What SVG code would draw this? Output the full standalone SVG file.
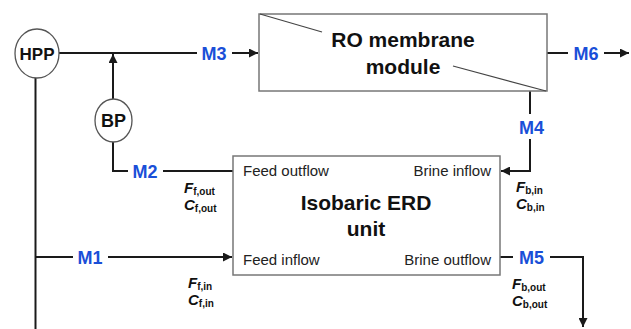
<svg xmlns="http://www.w3.org/2000/svg" width="631" height="329" viewBox="0 0 631 329">
  <style>
    .pipe { fill: none; stroke: #1a1a1a; stroke-width: 2; }
    .box { fill: #fff; stroke: #777; stroke-width: 1.5; }
    .pump { fill: #fff; stroke: #555; stroke-width: 1.3; }
    .thin { fill: none; stroke: #444; stroke-width: 1.2; }
    .lbl { font-family: "Liberation Sans", Arial, sans-serif; font-weight: bold; font-size: 18px; fill: #1a4fd8; text-anchor: middle; }
    .title { font-family: "Liberation Sans", Arial, sans-serif; font-weight: bold; font-size: 21px; fill: #111; text-anchor: middle; }
    .pt { font-family: "Liberation Sans", Arial, sans-serif; font-weight: bold; fill: #111; text-anchor: middle; }
    .port { font-family: "Liberation Sans", Arial, sans-serif; font-size: 15px; fill: #222; }
    .var { font-family: "Liberation Sans", Arial, sans-serif; font-weight: bold; font-style: italic; font-size: 15px; fill: #111; }
    .sub { font-style: normal; font-size: 10px; }
  </style>
  <defs>
    <marker id="arr" viewBox="0 0 10 10" refX="10" refY="5" markerWidth="9" markerHeight="9" markerUnits="userSpaceOnUse" orient="auto">
      <path d="M0,0 L10,5 L0,10 z" fill="#1a1a1a"/>
    </marker>
  </defs>

  <!-- connectors -->
  <g id="connectors">
    <path class="pipe" d="M59,53 H197"/>
    <path class="pipe" d="M232,53 H258" marker-end="url(#arr)"/>
    <path class="pipe" d="M113,99 V54" marker-end="url(#arr)"/>
    <path class="pipe" d="M113,142 V171 H128"/>
    <path class="pipe" d="M163,171 H233"/>
    <path class="pipe" d="M35.5,78 V329"/>
    <path class="pipe" d="M35.5,257 H73"/>
    <path class="pipe" d="M108,257 H232" marker-end="url(#arr)"/>
    <path class="pipe" d="M530,91 V114"/>
    <path class="pipe" d="M530,139 V171 H501" marker-end="url(#arr)"/>
    <path class="pipe" d="M500,257 H513"/>
    <path class="pipe" d="M550,257 H583 V327" marker-end="url(#arr)"/>
    <path class="pipe" d="M547,53 H568"/>
    <path class="pipe" d="M604,53 H629" marker-end="url(#arr)"/>
    <text class="lbl" x="214" y="59.5">M3</text>
    <text class="lbl" x="145" y="177.5">M2</text>
    <text class="lbl" x="90" y="263.5">M1</text>
    <text class="lbl" x="531.5" y="134">M4</text>
    <text class="lbl" x="531.5" y="263.5">M5</text>
    <text class="lbl" x="586" y="59.5">M6</text>
  </g>

  <!-- high pressure pump -->
  <g id="hpp">
    <ellipse class="pump" cx="37" cy="53.5" rx="22" ry="24.5"/>
    <text class="pt" x="37" y="60" font-size="17">HPP</text>
  </g>

  <!-- booster pump -->
  <g id="bp">
    <ellipse class="pump" cx="113.5" cy="120.5" rx="18.5" ry="21.5"/>
    <text class="pt" x="113.5" y="126.5" font-size="18">BP</text>
  </g>

  <!-- RO membrane module -->
  <g id="ro-module">
    <rect class="box" x="259" y="14" width="288" height="77"/>
    <path class="thin" d="M260,14 L322,32"/>
    <path class="thin" d="M453,66 L546,91"/>
    <text class="title" x="403" y="47">RO membrane</text>
    <text class="title" x="403" y="74">module</text>
  </g>

  <!-- isobaric energy recovery device -->
  <g id="erd-unit">
    <rect class="box" x="233" y="156" width="267" height="119"/>
    <text class="port" x="243" y="176">Feed outflow</text>
    <text class="port" x="491" y="176" text-anchor="end">Brine inflow</text>
    <text class="port" x="243" y="265">Feed inflow</text>
    <text class="port" x="491" y="265" text-anchor="end">Brine outflow</text>
    <text class="title" x="366" y="210">Isobaric ERD</text>
    <text class="title" x="366" y="236">unit</text>
  </g>

  <!-- stream variables -->
  <g id="stream-vars">
    <text class="var" x="184" y="193">F<tspan class="sub" dy="2">f,out</tspan></text>
    <text class="var" x="184" y="210">C<tspan class="sub" dy="2">f,out</tspan></text>
    <text class="var" x="188" y="288">F<tspan class="sub" dy="2">f,in</tspan></text>
    <text class="var" x="188" y="305">C<tspan class="sub" dy="2">f,in</tspan></text>
    <text class="var" x="516" y="192">F<tspan class="sub" dy="2">b,in</tspan></text>
    <text class="var" x="516" y="209">C<tspan class="sub" dy="2">b,in</tspan></text>
    <text class="var" x="512" y="289">F<tspan class="sub" dy="2">b,out</tspan></text>
    <text class="var" x="512" y="306">C<tspan class="sub" dy="2">b,out</tspan></text>
  </g>
</svg>
